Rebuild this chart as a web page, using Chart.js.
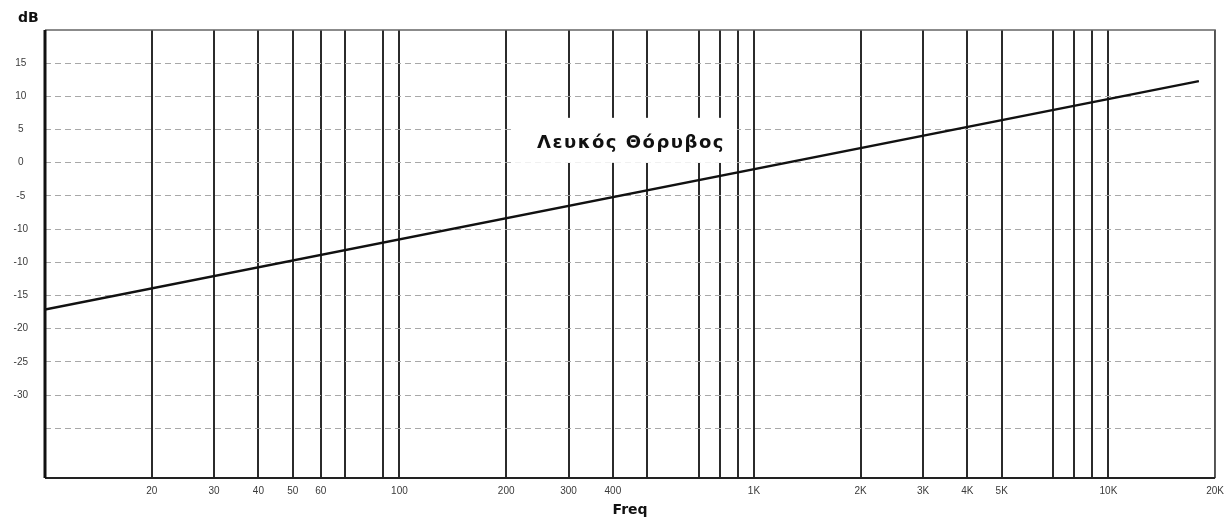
<!DOCTYPE html>
<html lang="el">
<head>
<meta charset="UTF-8">
<title>Λευκός Θόρυβος</title>
<script src="https://cdn.jsdelivr.net/npm/chart.js"></script>
<style>
  html, body { margin: 0; padding: 0; background: #fff; }
</style>
</head>
<body>
<canvas id="noiseChart" width="1231" height="519"></canvas>
<script>
// white noise line (Hz -> dB)
const freqs = [10, 18000];
const levels = [-22.1, 12.3];

// frequencies with a printed label, and the label text
const xLabelFreqs = [20, 30, 40, 50, 60, 100, 200, 300, 400, 1000, 2000, 3000, 4000, 5000, 10000, 20000];
const xLabelText = ['20', '30', '40', '50', '60', '100', '200', '300', '400', '1K', '2K', '3K', '4K', '5K', '10K', '20K'];
// extra vertical lines without a label
const xMinorFreqs = [70, 90, 500, 700, 800, 900, 7000, 8000, 9000];

// dB grid rows and the labels as printed on the scan
const yTickValues = [15, 10, 5, 0, -5, -10, -15, -20, -25, -30, -35];
const yTickText = ['15', '10', '5', '0', '-5', '-10', '-10', '-15', '-20', '-25', '-30'];
const yExtraGrid = [-40];

const noteText = 'Λευκός Θόρυβος';
const unitText = 'dB';

Chart.defaults.font.family = "'Liberation Sans', Arial, sans-serif";
Chart.defaults.color = '#3a3a3a';

// label box drawn at a data position
const notePlugin = {
  id: 'note',
  beforeDatasetsDraw(chart, args, opts) {
    const {ctx, scales: {x, y}} = chart;
    const cx = x.getPixelForValue(opts.freq);
    const cy = y.getPixelForValue(opts.db);
    ctx.save();
    ctx.font = 'bold 18px "DejaVu Sans", sans-serif';
    ctx.letterSpacing = '1.5px';
    const w = ctx.measureText(opts.text).width;
    ctx.fillStyle = '#fff';
    ctx.fillRect(cx - w / 2 - 24, cy - 25, w + 36, 45);
    ctx.fillStyle = '#111';
    ctx.textAlign = 'center';
    ctx.textBaseline = 'middle';
    ctx.fillText(opts.text, cx, cy);
    ctx.restore();
  }
};

// plot frame and the dB unit above the axis
const framePlugin = {
  id: 'frame',
  afterDraw(chart) {
    const {ctx, chartArea: a} = chart;
    ctx.save();
    ctx.strokeStyle = '#666';
    ctx.lineWidth = 1.5;
    ctx.beginPath();
    ctx.moveTo(a.left, a.top);
    ctx.lineTo(a.right, a.top);
    ctx.lineTo(a.right, a.bottom);
    ctx.stroke();
    ctx.strokeStyle = '#222';
    ctx.lineWidth = 2;
    ctx.beginPath();
    ctx.moveTo(a.left, a.bottom);
    ctx.lineTo(a.right, a.bottom);
    ctx.stroke();
    ctx.strokeStyle = '#111';
    ctx.lineWidth = 3;
    ctx.beginPath();
    ctx.moveTo(a.left, a.top);
    ctx.lineTo(a.left, a.bottom);
    ctx.stroke();

    ctx.fillStyle = '#111';
    ctx.font = 'bold 14px "DejaVu Sans", sans-serif';
    ctx.textAlign = 'left';
    ctx.textBaseline = 'middle';
    ctx.fillText(unitText, a.left - 27, a.top - 12);
    ctx.restore();
  }
};

new Chart(document.getElementById('noiseChart'), {
  type: 'line',
  data: {
    datasets: [{
      data: freqs.map((f, i) => ({x: f, y: levels[i]})),
      borderColor: '#111',
      borderWidth: 2.5,
      pointRadius: 0,
      tension: 0
    }]
  },
  options: {
    responsive: false,
    animation: false,
    devicePixelRatio: 1,
    layout: {padding: {top: 30, left: 0, right: 13, bottom: 0}},
    plugins: {
      legend: {display: false},
      tooltip: {enabled: false},
      note: {text: noteText, freq: 450, db: 3}
    },
    scales: {
      x: {
        type: 'logarithmic',
        min: 10,
        max: 20000,
        afterBuildTicks(scale) {
          scale.ticks = xLabelFreqs.concat(xMinorFreqs).sort((a, b) => a - b).map(v => ({value: v}));
        },
        afterFit(scale) {
          scale.height = 41;
        },
        ticks: {
          autoSkip: false,
          maxRotation: 0,
          minRotation: 0,
          padding: 7,
          font: {size: 10},
          callback(value) {
            const i = xLabelFreqs.indexOf(value);
            return i < 0 ? '' : xLabelText[i];
          }
        },
        grid: {color: '#2b2b2b', lineWidth: 2, drawTicks: false, tickLength: 0},
        border: {display: false},
        title: {
          display: true,
          text: 'Freq',
          color: '#111',
          font: {size: 14, weight: 'bold', family: "'DejaVu Sans', sans-serif"},
          padding: {top: 0, bottom: 0}
        }
      },
      y: {
        type: 'linear',
        min: -47.5,
        max: 20,
        afterBuildTicks(scale) {
          scale.ticks = yTickValues.concat(yExtraGrid).map(v => ({value: v}));
        },
        afterFit(scale) {
          scale.width = 45;
        },
        ticks: {
          padding: 17,
          crossAlign: 'center',
          font: {size: 10},
          callback(value) {
            const i = yTickValues.indexOf(value);
            return i < 0 ? '' : yTickText[i];
          }
        },
        grid: {color: '#a8a8a8', lineWidth: 1, drawTicks: false, tickLength: 0},
        border: {display: false, dash: [6, 4]}
      }
    }
  },
  plugins: [notePlugin, framePlugin]
});
</script>
</body>
</html>
